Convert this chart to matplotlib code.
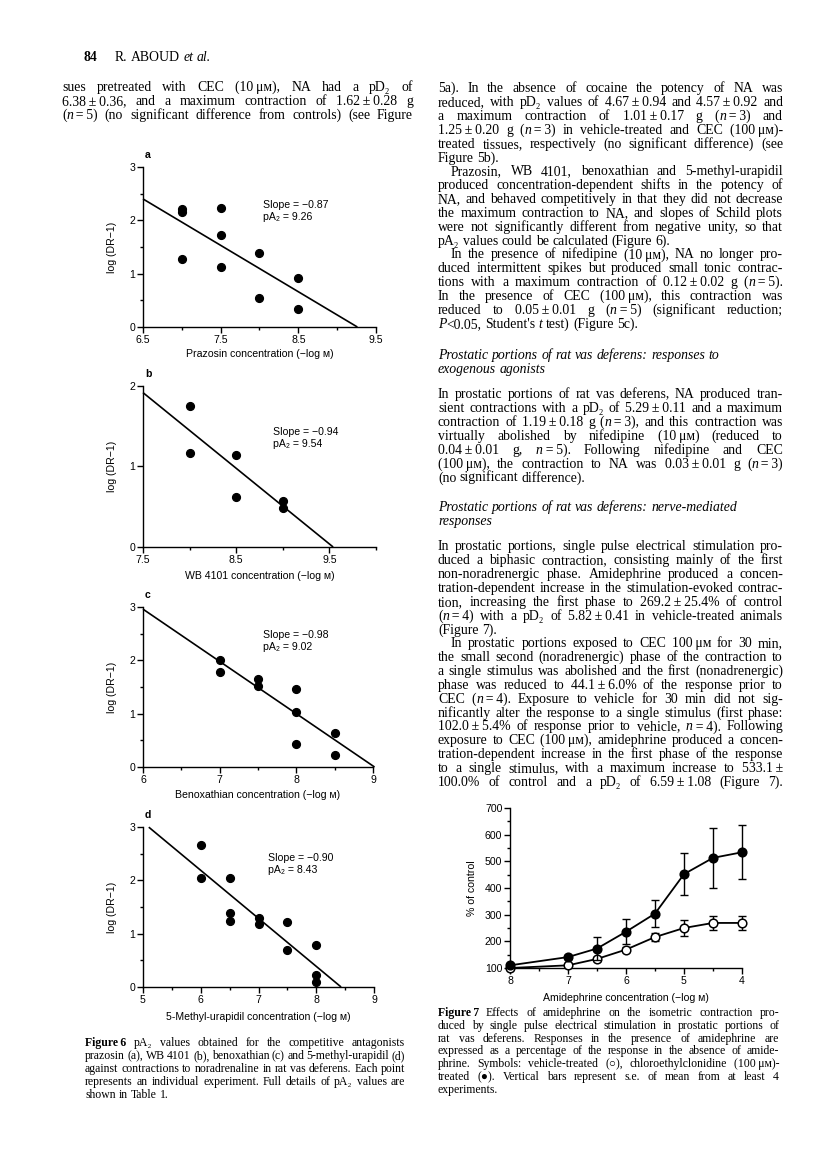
import re
import matplotlib
matplotlib.use('Agg')
import matplotlib.pyplot as plt
from matplotlib.ticker import FixedLocator

# ---------------- data ----------------
a_x = [7, 7, 7, 7.5, 7.5, 7.5, 8, 8, 8.5, 8.5]
a_y = [2.22, 2.16, 1.28, 2.24, 1.72, 1.13, 1.39, 0.55, 0.92, 0.33]
a_slope, a_pa2, a_start = -0.87, 9.26, 6.5

b_x = [8, 8, 8.5, 8.5, 9, 9]
b_y = [1.75, 1.17, 1.14, 0.62, 0.57, 0.48]
b_slope, b_pa2, b_start = -0.94, 9.54, 7.5

c_x = [7, 7, 7.5, 7.5, 8, 8, 8, 8.5, 8.5]
c_y = [2.00, 1.78, 1.65, 1.52, 1.46, 1.03, 0.43, 0.64, 0.22]
c_slope, c_pa2, c_start = -0.98, 9.02, 6.0

d_x = [6, 6, 6.5, 6.5, 6.5, 7, 7, 7.5, 7.5, 8, 8, 8]
d_y = [2.66, 2.05, 2.05, 1.39, 1.23, 1.30, 1.19, 1.21, 0.70, 0.78, 0.22, 0.09]
d_slope, d_pa2, d_start = -0.90, 8.43, 5.1

f7_x = [8, 7, 6.5, 6, 5.5, 5, 4.5, 4]
veh_y = [100, 110, 134, 169, 216, 250, 269, 269]
veh_err = [0, 0, 6, 8, 15, 30, 27, 26]
cec_y = [110, 141, 173, 236, 304, 452, 513, 534]
cec_err = [5, 8, 44, 47, 51, 80, 112, 101]

# ---------------- text content ----------------
HEADER_NUM = "84"
HEADER_TXT = "R. ABOUD *et* *al.*"

LEFT_TOP = [
    "sues pretreated with CEC (10~μᴍ), NA had a pD₂ of",
    "6.38~±~0.36, and a maximum contraction of 1.62~±~0.28 g",
    "(*n*~=~5) (no significant difference from controls) (see Figure",
]

P1 = ["5a). In the absence of cocaine the potency of NA was",
      "reduced, with pD₂ values of 4.67~±~0.94 and 4.57~±~0.92 and",
      "a maximum contraction of 1.01~±~0.17 g (*n*~=~3) and",
      "1.25~±~0.20 g (*n*~=~3) in vehicle-treated and CEC (100~μᴍ)-",
      "treated tissues, respectively (no significant difference) (see",
      "Figure 5b)."]
P2 = ["Prazosin, WB 4101, benoxathian and 5-methyl-urapidil",
      "produced concentration-dependent shifts in the potency of",
      "NA, and behaved competitively in that they did not decrease",
      "the maximum contraction to NA, and slopes of Schild plots",
      "were not significantly different from negative unity, so that",
      "pA₂ values could be calculated (Figure 6)."]
P3 = ["In the presence of nifedipine (10~μᴍ), NA no longer pro-",
      "duced intermittent spikes but produced small tonic contrac-",
      "tions with a maximum contraction of 0.12~±~0.02 g (*n*~=~5).",
      "In the presence of CEC (100~μᴍ), this contraction was",
      "reduced to 0.05~±~0.01 g (*n*~=~5) (significant reduction;",
      "*P*<0.05, Student's *t* test) (Figure 5c)."]
HEAD1 = ["Prostatic portions of rat vas deferens: responses to",
         "exogenous agonists"]
P4 = ["In prostatic portions of rat vas deferens, NA produced tran-",
      "sient contractions with a pD₂ of 5.29~±~0.11 and a maximum",
      "contraction of 1.19~±~0.18 g (*n*~=~3), and this contraction was",
      "virtually abolished by nifedipine (10~μᴍ) (reduced to",
      "0.04~±~0.01 g, *n*~=~5). Following nifedipine and CEC",
      "(100~μᴍ), the contraction to NA was 0.03~±~0.01 g (*n*~=~3)",
      "(no significant difference)."]
HEAD2 = ["Prostatic portions of rat vas deferens: nerve-mediated",
         "responses"]
P5 = ["In prostatic portions, single pulse electrical stimulation pro-",
      "duced a biphasic contraction, consisting mainly of the first",
      "non-noradrenergic phase. Amidephrine produced a concen-",
      "tration-dependent increase in the stimulation-evoked contrac-",
      "tion, increasing the first phase to 269.2~±~25.4% of control",
      "(*n*~=~4) with a pD₂ of 5.82~±~0.41 in vehicle-treated animals",
      "(Figure 7)."]
P6 = ["In prostatic portions exposed to CEC 100~μᴍ for 30 min,",
      "the small second (noradrenergic) phase of the contraction to",
      "a single stimulus was abolished and the first (nonadrenergic)",
      "phase was reduced to 44.1~±~6.0% of the response prior to",
      "CEC (*n*~=~4). Exposure to vehicle for 30 min did not sig-",
      "nificantly alter the response to a single stimulus (first phase:",
      "102.0~±~5.4% of response prior to vehicle, *n*~=~4). Following",
      "exposure to CEC (100~μᴍ), amidephrine produced a concen-",
      "tration-dependent increase in the first phase of the response",
      "to a single stimulus, with a maximum increase to 533.1~±",
      "100.0% of control and a pD₂ of 6.59~±~1.08 (Figure 7)."]

CAP6 = ["**Figure~6** pA₂ values obtained for the competitive antagonists",
        "prazosin (a), WB 4101 (b), benoxathian (c) and 5-methyl-urapidil (d)",
        "against contractions to noradrenaline in rat vas deferens. Each point",
        "represents an individual experiment. Full details of pA₂ values are",
        "shown in Table 1."]
CAP7 = ["**Figure~7**  Effects of amidephrine on the isometric contraction pro-",
        "duced by single pulse electrical stimulation in prostatic portions of",
        "rat vas deferens. Responses in the presence of amidephrine are",
        "expressed as a percentage of the response in the absence of amide-",
        "phrine. Symbols: vehicle-treated (○), chloroethylclonidine (100~μᴍ)-",
        "treated (●). Vertical bars represent s.e. of mean from at least 4",
        "experiments."]

# ---------------- setup ----------------
W, H = 816, 1174
SERIF = ['Liberation Serif', 'DejaVu Serif', 'DejaVu Sans']
SANS = ['Liberation Sans', 'DejaVu Sans']
plt.rcParams['font.family'] = SANS
plt.rcParams['axes.linewidth'] = 1.0

fig = plt.figure(figsize=(W / 100, H / 100), dpi=100)
fig.patch.set_facecolor('white')
renderer = fig.canvas.get_renderer()

_wcache = {}


def seg_w(s, style, weight, size):
    key = (s, style, weight, size)
    if key not in _wcache:
        t = fig.text(0, 0, s, fontsize=size, family=SERIF, style=style, weight=weight)
        _wcache[key] = t.get_window_extent(renderer).width
        t.remove()
    return _wcache[key]


def space_w(size):
    return seg_w("x x", 'normal', 'normal', size) - seg_w("xx", 'normal', 'normal', size)


TOK = re.compile(r'\*\*(.+?)\*\*|\*(.+?)\*|([^*]+)')


def parse_word(w, base_style):
    w = w.replace('~', '\u2009')
    segs = []
    for m in TOK.finditer(w):
        if m.group(1):
            segs.append((m.group(1), base_style, 'bold'))
        elif m.group(2):
            segs.append((m.group(2), 'italic', 'normal'))
        else:
            segs.append((m.group(3), base_style, 'normal'))
    return segs


def draw_line(line, x0, x1, yc, size, justify=True, style='normal', indent=0.0):
    words = [parse_word(w, style) for w in line.split(' ') if w]
    widths = [sum(seg_w(s, st, wt, size) for s, st, wt in segs) for segs in words]
    start = x0 + indent
    sp = space_w(size)
    if justify and len(words) > 1:
        gap = (x1 - start - sum(widths)) / (len(words) - 1)
        gap = max(gap, sp * 0.5)
    else:
        gap = sp
    base = yc + size * 100 / 72 * 0.24
    x = start
    for segs, wd in zip(words, widths):
        cx = x
        for s, st, wt in segs:
            fig.text(cx / W, 1 - base / H, s, fontsize=size, family=SERIF, style=st,
                     weight=wt, ha='left', va='baseline')
            cx += seg_w(s, st, wt, size)
        x += wd + gap


def draw_block(paras, x0, x1, y0, lh, size, style='normal', justify=True):
    y = y0
    for lines, indent, last_just in paras:
        for i, ln in enumerate(lines):
            last = (i == len(lines) - 1)
            draw_line(ln, x0, x1, y, size, justify=justify and (not last or last_just),
                      style=style, indent=indent if i == 0 else 0.0)
            y += lh
    return y


BODY = 9.9
LH = 13.85
LX0, LX1 = 62, 413
RX0, RX1 = 438, 783
IND = 13

# header
fig.text(83 / W, 1 - 61 / H, HEADER_NUM, fontsize=BODY, family=SERIF, weight='bold',
         ha='left', va='baseline')
draw_line(HEADER_TXT, 115, 400, 58, BODY, justify=False)

draw_block([(LEFT_TOP, 0, True)], LX0, LX1, 88, LH, BODY)
draw_block([(P1, 0, False), (P2, IND, False), (P3, IND, False)], RX0, RX1, 89, LH, BODY)
draw_block([(HEAD1, 0, False)], RX0, RX1, 356, LH, BODY, style='italic', justify=False)
draw_block([(P4, 0, False)], RX0, RX1, 395, LH, BODY)
draw_block([(HEAD2, 0, False)], RX0, RX1, 508, LH, BODY, style='italic', justify=False)
draw_block([(P5, 0, False), (P6, IND, True)], RX0, RX1, 547, LH, BODY)

CAPS = 8.5
draw_block([(CAP6, 0, False)], 85, 405, 1043, 13.0, CAPS)
draw_block([(CAP7, 0, False)], RX0, 779, 1013, 12.85, CAPS)

# ---------------- charts ----------------
LAB = 7.6


def make_ax(x0, ytop, x1, ybot):
    ax = fig.add_axes([x0 / W, 1 - ybot / H, (x1 - x0) / W, (ybot - ytop) / H])
    for s in ('top', 'right'):
        ax.spines[s].set_visible(False)
    ax.patch.set_alpha(0)
    return ax


def schild(box, xs, ys, slope, pa2, xstart, xlim, ylim, xt, xm, yt, ym,
           xlabel, xlab_y, letter, txt_xy):
    x0, ytop, x1, ybot = box
    ax = make_ax(*box)
    ax.set_xlim(*xlim)
    ax.set_ylim(*ylim)
    ax.xaxis.set_major_locator(FixedLocator(xt))
    ax.set_xticklabels([('%g' % v) for v in xt])
    ax.xaxis.set_minor_locator(FixedLocator(xm))
    ax.yaxis.set_major_locator(FixedLocator(yt))
    ax.set_yticklabels([('%g' % v) for v in yt])
    ax.yaxis.set_minor_locator(FixedLocator(ym))
    ax.tick_params(which='major', direction='out', length=4, width=1.0, labelsize=LAB, pad=1.5)
    ax.tick_params(which='minor', direction='out', length=2.5, width=1.0)
    ax.plot([xstart, pa2], [slope * (xstart - pa2), 0], color='black', lw=1.2,
            solid_capstyle='butt', clip_on=False)
    ax.plot(xs, ys, 'o', color='black', ms=5.6, clip_on=False)
    fig.text(112 / W, 1 - (ytop + ybot) / 2 / H, 'log (DR−1)', rotation=90, ha='center',
             va='center', fontsize=LAB)
    fig.text((x0 + x1) / 2 / W, 1 - xlab_y / H, xlabel, ha='center', va='center', fontsize=LAB)
    fig.text((x0 + 2) / W, 1 - (ytop - 12) / H, letter, ha='left', va='center',
             fontsize=LAB, weight='bold')
    tx, ty = txt_xy
    fig.text(tx / W, 1 - ty / H, 'Slope = %s' % ('%.2f' % slope).replace('-', '−'),
             ha='left', va='center', fontsize=LAB)
    fig.text(tx / W, 1 - (ty + 12) / H, 'pA₂ = %.2f' % pa2, ha='left', va='center',
             fontsize=LAB)
    return ax


schild((143, 167, 376, 327), a_x, a_y, a_slope, a_pa2, a_start, (6.5, 9.5), (0, 3),
       [6.5, 7.5, 8.5, 9.5], [7, 8, 9], [0, 1, 2, 3], [0.5, 1.5, 2.5],
       'Prazosin concentration (−log ᴍ)', 354, 'a', (263, 205))
schild((143, 386, 376, 547), b_x, b_y, b_slope, b_pa2, b_start, (7.5, 10), (0, 2),
       [7.5, 8.5, 9.5], [8, 9, 10], [0, 1, 2], [],
       'WB 4101 concentration (−log ᴍ)', 576, 'b', (273, 432))
schild((143, 607, 373, 767), c_x, c_y, c_slope, c_pa2, c_start, (6, 9), (0, 3),
       [6, 7, 8, 9], [6.5, 7.5, 8.5], [0, 1, 2, 3], [0.5, 1.5, 2.5],
       'Benoxathian concentration (−log ᴍ)', 795, 'c', (263, 635))
schild((143, 827, 374, 987), d_x, d_y, d_slope, d_pa2, d_start, (5, 9), (0, 3),
       [5, 6, 7, 8, 9], [5.5, 6.5, 7.5, 8.5], [0, 1, 2, 3], [0.5, 1.5, 2.5],
       '5-Methyl-urapidil concentration (−log ᴍ)', 1017, 'd', (268, 858))

# Figure 7
ax7 = make_ax(510, 808, 742, 968)
ax7.set_xlim(8, 4)
ax7.set_ylim(100, 700)
ax7.xaxis.set_major_locator(FixedLocator([8, 7, 6, 5, 4]))
ax7.set_xticklabels(['8', '7', '6', '5', '4'])
ax7.xaxis.set_minor_locator(FixedLocator([7.5, 6.5, 5.5, 4.5]))
ax7.yaxis.set_major_locator(FixedLocator([100, 200, 300, 400, 500, 600, 700]))
ax7.set_yticklabels(['100', '200', '300', '400', '500', '600', '700'])
ax7.yaxis.set_minor_locator(FixedLocator([150, 250, 350, 450, 550, 650]))
ax7.tick_params(which='major', direction='out', length=4, width=1.0, labelsize=LAB, pad=1.5)
ax7.tick_params(which='minor', direction='out', length=2.5, width=1.0)


def series(y, err, face, z):
    xs = [x for x, e in zip(f7_x, err) if e > 0]
    ys = [v for v, e in zip(y, err) if e > 0]
    es = [e for e in err if e > 0]
    eb = ax7.errorbar(xs, ys, yerr=es, fmt='none', ecolor='black', elinewidth=1.0,
                      capsize=2.8, capthick=1.0, zorder=z)
    for art in eb.get_children():
        art.set_clip_on(False)
    ax7.plot(f7_x, y, '-', color='black', lw=1.3, zorder=z + 0.5, clip_on=False)
    ax7.plot(f7_x, y, 'o', mfc=face, mec='black', mew=1.1, ms=6.2, zorder=z + 1,
             clip_on=False)


series(veh_y, veh_err, 'white', 3)
series(cec_y, cec_err, 'black', 6)

fig.text(472 / W, 1 - 888 / H, '% of control', rotation=90, ha='center', va='center',
         fontsize=LAB)
fig.text(626 / W, 1 - 998 / H, 'Amidephrine concentration (−log ᴍ)', ha='center',
         va='center', fontsize=LAB)

fig.savefig('out.png', dpi=100, facecolor='white')
